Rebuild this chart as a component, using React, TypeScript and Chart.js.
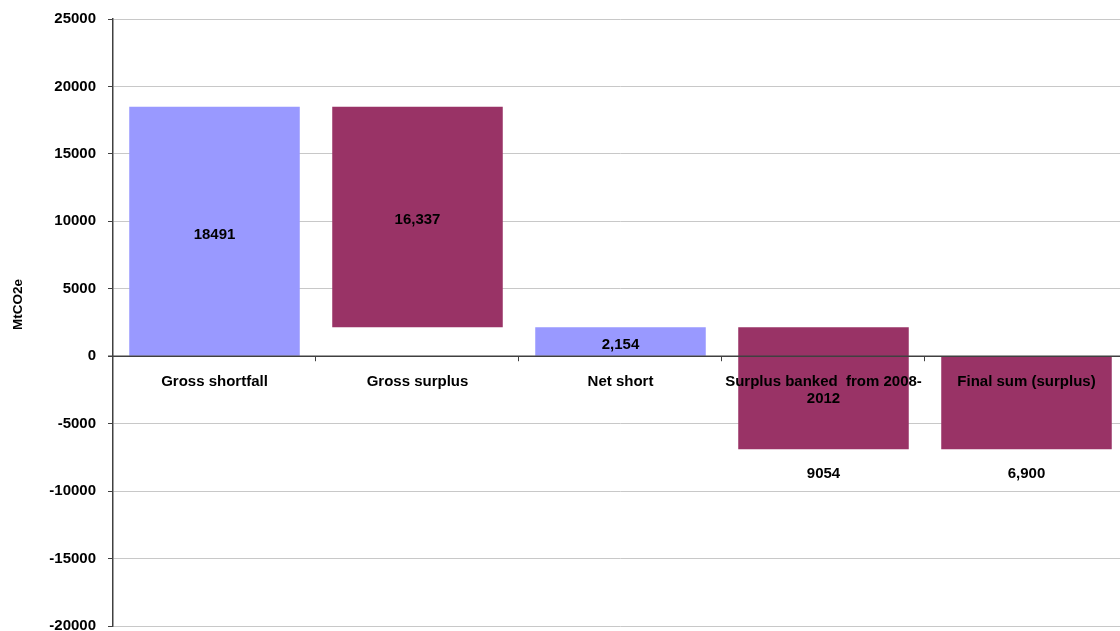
import React, { useEffect, useRef } from "react";
import { Chart, registerables } from "chart.js";

Chart.register(...registerables);

const categories: string[][] = [
  ["Gross shortfall"],
  ["Gross surplus"],
  ["Net short"],
  ["Surplus banked  from 2008-", "2012"],
  ["Final sum (surplus)"],
];
const barStart = [0, 2154, 0, 2154, 0];
const barEnd = [18491, 18491, 2154, -6900, -6900];
const valueLabels = ["18491", "16,337", "2,154", "9054", "6,900"];
const barColors = ["#9999FF", "#993366", "#9999FF", "#993366", "#993366"];
const yMin = -20000;
const yMax = 25000;
const yStep = 5000;
const yTitle = "MtCO2e";

const FONT = "Arial, 'Liberation Sans', sans-serif";

const overlay = {
  id: "overlay",
  afterDatasetsDraw(chart: any) {
    const { ctx, chartArea, scales } = chart;
    const xs = scales.x;
    const ys = scales.y;
    const zeroY = ys.getPixelForValue(0);
    ctx.save();
    // zero line
    ctx.strokeStyle = "#404040";
    ctx.lineWidth = 1.5;
    ctx.beginPath();
    ctx.moveTo(chartArea.left - 5, zeroY);
    ctx.lineTo(chartArea.right, zeroY);
    ctx.stroke();
    // category boundary ticks
    const n = categories.length;
    const slot = (chartArea.right - chartArea.left) / n;
    ctx.lineWidth = 1;
    for (let k = 1; k <= n; k++) {
      const x = Math.round(chartArea.left + slot * k) - 0.5;
      ctx.beginPath();
      ctx.moveTo(x, zeroY);
      ctx.lineTo(x, zeroY + 5);
      ctx.stroke();
    }
    // category labels
    ctx.fillStyle = "#000";
    ctx.font = `bold 15px ${FONT}`;
    ctx.textAlign = "center";
    ctx.textBaseline = "middle";
    categories.forEach((lines, i) => {
      const x = xs.getPixelForValue(i);
      lines.forEach((ln, j) => {
        ctx.fillText(ln, x, zeroY + 26 + j * 17);
      });
    });
    // value labels
    valueLabels.forEach((lab, i) => {
      const x = xs.getPixelForValue(i);
      const lo = Math.min(barStart[i], barEnd[i]);
      let y: number;
      if (lo < 0) {
        y = ys.getPixelForValue(lo) + 25;
      } else {
        y = ys.getPixelForValue((barStart[i] + barEnd[i]) / 2) + 3;
      }
      ctx.fillText(lab, x, y);
    });
    // y title
    ctx.translate(18, (chartArea.top + chartArea.bottom) / 2 - 18);
    ctx.rotate(-Math.PI / 2);
    ctx.font = `bold 13.5px ${FONT}`;
    ctx.fillText(yTitle, 0, 0);
    ctx.restore();
  },
};

export default function App() {
  const ref = useRef<HTMLCanvasElement | null>(null);
  useEffect(() => {
    if (!ref.current) return;
    const chart = new Chart(ref.current, {
      type: "bar",
      data: {
        labels: categories.map((c) => c.join(" ")),
        datasets: [
          {
            data: barStart.map((s, i) => [s, barEnd[i]]) as any,
            backgroundColor: barColors,
            borderWidth: 0,
            barPercentage: 0.84,
            categoryPercentage: 1,
          },
        ],
      },
      options: {
        responsive: false,
        animation: false,
        layout: { padding: { top: 19, bottom: 19, left: 0, right: 0 } },
        plugins: {
          legend: { display: false },
          tooltip: { enabled: false },
          title: { display: false },
        },
        scales: {
          x: { display: false },
          y: {
            min: yMin,
            max: yMax,
            afterFit: (axis: any) => {
              axis.width = 113;
            },
            ticks: {
              stepSize: yStep,
              color: "#000",
              padding: 12,
              font: { family: FONT, size: 15, weight: "bold" },
              callback: (v: any) => String(v),
            },
            grid: {
              color: "#c8c8c8",
              lineWidth: 1,
              tickLength: 5,
              tickColor: "#404040",
            },
            border: { color: "#404040", width: 1.5 },
          },
        },
      },
      plugins: [overlay],
    });
    return () => chart.destroy();
  }, []);
  return (
    <div
      style={{
        position: "fixed",
        left: 0,
        top: 0,
        width: 1120,
        height: 631,
        overflow: "hidden",
        background: "#fff",
      }}
    >
      <canvas
        ref={ref}
        width={1128}
        height={649}
        style={{ display: "block", marginTop: -2 }}
      />
    </div>
  );
}
